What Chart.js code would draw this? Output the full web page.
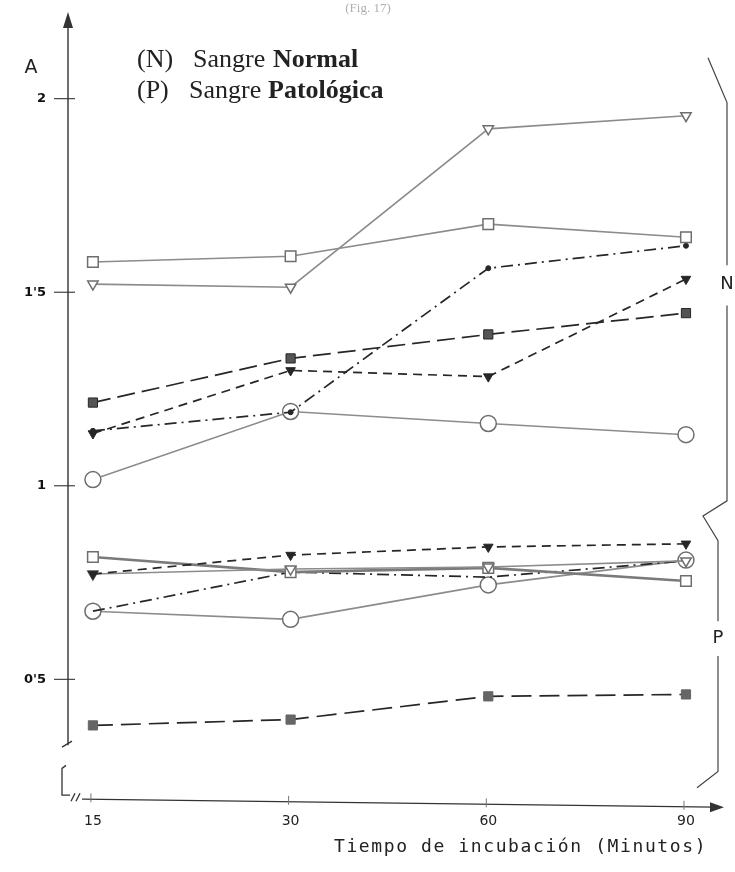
<!DOCTYPE html>
<html>
<head>
<meta charset="utf-8">
<script src="https://cdn.jsdelivr.net/npm/chart.js@4.4.1/dist/chart.umd.min.js"></script>
<style>
  html, body { margin: 0; padding: 0; background: #fff; }
  #wrap { width: 735px; height: 872px; position: relative; }
</style>
</head>
<body>
<div id="wrap"><canvas id="myChart"></canvas></div>
<script>
// incubation times (equally spaced on the drawing)
let times = ['15', '30', '60', '90'];
let yTicks = [0.5, 1, 1.5, 2];

// N = sangre normal
let nOpenSquare = [1.578, 1.593, 1.676, 1.642];
let nOpenTriangle = [1.521, 1.513, 1.922, 1.956];
let nDotDash = [1.142, 1.19, 1.562, 1.62];
let nCircle = [1.016, 1.192, 1.161, 1.132];
let nFilledSquare = [1.215, 1.329, 1.391, 1.446];
let nFilledTriangle = [1.135, 1.298, 1.282, 1.534];

// P = sangre patologica
let pFilledTriangle = [0.772, 0.821, 0.842, 0.85];
let pOpenTriangle = [0.772, 0.785, 0.79, 0.806];
let pOpenSquare = [0.816, 0.777, 0.788, 0.754];
let pDotDash = [0.676, 0.777, 0.764, 0.806];
let pCircle = [0.676, 0.655, 0.744, 0.808];
let pFilledSquare = [0.381, 0.396, 0.456, 0.461];

const GREY = '#8c8c8c';
const DARK = '#262626';

function pts(arr) {
  return arr.map((v, i) => ({ x: i, y: v }));
}

function openLine(data, style, extra) {
  return Object.assign({
    data: pts(data),
    borderColor: GREY,
    borderWidth: 1.6,
    pointStyle: style,
    pointRadius: 7.5,
    pointBorderColor: '#6e6e6e',
    pointBackgroundColor: '#fff',
    pointBorderWidth: 1.5
  }, extra || {});
}

function dashLine(data, style, dash, extra) {
  return Object.assign({
    data: pts(data),
    borderColor: DARK,
    borderWidth: 1.7,
    borderDash: dash,
    pointStyle: style,
    pointRadius: 6.5,
    pointBorderColor: DARK,
    pointBackgroundColor: '#555',
    pointBorderWidth: 1
  }, extra || {});
}

// axes, arrows, breaks, braces and the text drawn on top
const decorations = {
  id: 'decorations',
  afterDraw(chart) {
    const ctx = chart.ctx;
    const y = chart.scales.y;
    const x = chart.scales.x;
    const area = chart.chartArea;
    const ax = area.left;
    ctx.save();
    ctx.strokeStyle = '#333';
    ctx.fillStyle = '#333';
    ctx.lineWidth = 1.4;

    // y axis with arrow
    ctx.beginPath();
    ctx.moveTo(ax, y.getPixelForValue(0.33));
    ctx.lineTo(ax, 22);
    ctx.stroke();
    ctx.beginPath();
    ctx.moveTo(ax, 12);
    ctx.lineTo(ax - 5, 28);
    ctx.lineTo(ax + 5, 28);
    ctx.closePath();
    ctx.fill();
    // y tick crosses
    ctx.lineWidth = 1.1;
    yTicks.forEach(v => {
      let py = y.getPixelForValue(v);
      ctx.beginPath();
      ctx.moveTo(ax - 14, py);
      ctx.lineTo(ax + 7, py);
      ctx.stroke();
    });
    ctx.lineWidth = 1.3;
    // break on the y axis
    let yb = y.getPixelForValue(0.33);
    ctx.beginPath();
    ctx.moveTo(ax - 6, yb + 2);
    ctx.lineTo(ax + 4, yb - 4);
    ctx.stroke();
    let yb2 = y.getPixelForValue(0.27);
    ctx.beginPath();
    ctx.moveTo(ax - 2, yb2 - 3);
    ctx.lineTo(ax - 6, yb2);
    ctx.lineTo(ax - 6, area.bottom - 8);
    ctx.lineTo(ax + 2, area.bottom - 8);
    ctx.stroke();
    // x axis with break marks and arrow
    ctx.beginPath();
    ctx.moveTo(ax + 7, area.bottom - 10);
    ctx.lineTo(ax + 3, area.bottom - 2);
    ctx.moveTo(ax + 12, area.bottom - 10);
    ctx.lineTo(ax + 8, area.bottom - 2);
    ctx.stroke();
    ctx.beginPath();
    ctx.moveTo(ax + 14, area.bottom - 4);
    ctx.lineTo(area.right - 4, area.bottom + 4);
    ctx.stroke();
    ctx.beginPath();
    ctx.moveTo(area.right + 6, area.bottom + 4);
    ctx.lineTo(area.right - 8, area.bottom - 1);
    ctx.lineTo(area.right - 8, area.bottom + 9);
    ctx.closePath();
    ctx.fill();
    // small x ticks
    ctx.lineWidth = 1;
    ctx.strokeStyle = '#777';
    times.forEach((t, i) => {
      let pxx = x.getPixelForValue(i) - 2;
      let base = area.bottom - 4 + (pxx - ax - 14) * 8 / (area.right - ax - 18);
      ctx.beginPath();
      ctx.moveTo(pxx, base - 6);
      ctx.lineTo(pxx, base + 3);
      ctx.stroke();
    });

    // braces on the right
    const px = v => y.getPixelForValue(v);
    ctx.strokeStyle = '#444';
    ctx.lineWidth = 1.2;
    ctx.beginPath();
    ctx.moveTo(708, px(2.106));
    ctx.lineTo(727, px(1.99));
    ctx.lineTo(727, px(1.57));
    ctx.moveTo(727, px(1.466));
    ctx.lineTo(727, px(0.961));
    ctx.lineTo(703, px(0.922));
    ctx.lineTo(718, px(0.858));
    ctx.lineTo(718, px(0.65));
    ctx.moveTo(718, px(0.56));
    ctx.lineTo(718, px(0.262));
    ctx.lineTo(697, px(0.22));
    ctx.stroke();

    ctx.fillStyle = '#222';
    ctx.font = '18px "DejaVu Sans"';
    ctx.textAlign = 'center';
    ctx.textBaseline = 'middle';
    ctx.fillText('N', 727, px(1.52));
    ctx.fillText('P', 718, px(0.605));
    ctx.font = '19px "DejaVu Sans"';
    ctx.fillText('A', 31, 68);

    // faint figure caption, cut at the top
    ctx.fillStyle = '#b0b0b0';
    ctx.font = '13px "Liberation Serif"';
    ctx.fillText('(Fig. 17)', 368, 9);

    // axis title, typewriter style
    ctx.fillStyle = '#222';
    ctx.textAlign = 'left';
    ctx.textBaseline = 'alphabetic';
    ctx.font = '18px "DejaVu Sans Mono"';
    ctx.letterSpacing = '1.6px';
    ctx.fillText('Tiempo de incubación (Minutos)', 334, 852);
    ctx.letterSpacing = '0px';

    // legend lines
    ctx.font = '26px "Liberation Serif"';
    ctx.fillText('(N)', 137, 67);
    ctx.fillText('Sangre', 193, 67);
    ctx.fillText('(P)', 137, 98);
    ctx.fillText('Sangre', 189, 98);
    ctx.font = 'bold 26px "Liberation Serif"';
    ctx.fillText('Normal', 273, 67);
    ctx.fillText('Patológica', 268, 98);
    ctx.restore();
  }
};

function makeFigure() {
  let canvas = document.getElementById('myChart').getContext('2d');

  let figure = new Chart(canvas, {
    type: 'line',
    data: {
      datasets: [
        openLine(nOpenSquare, 'rect'),
        openLine(nOpenTriangle, 'triangle', { pointRotation: 180, pointRadius: 6 }),
        dashLine(nDotDash, 'circle', [12, 5, 2, 5], { pointRadius: 2.5, pointBackgroundColor: DARK }),
        openLine(nCircle, 'circle', { pointRadius: 8 }),
        dashLine(nFilledSquare, 'rect', [18, 7]),
        dashLine(nFilledTriangle, 'triangle', [9, 6], { pointRotation: 180, pointRadius: 5.5, pointBackgroundColor: DARK }),
        dashLine(pFilledTriangle, 'triangle', [9, 6], { pointRotation: 180, pointRadius: 5.5, pointBackgroundColor: DARK }),
        openLine(pOpenTriangle, 'triangle', { pointRotation: 180, pointRadius: 6 }),
        openLine(pOpenSquare, 'rect', { borderWidth: 2.6, borderColor: '#7a7a7a' }),
        dashLine(pDotDash, 'circle', [12, 5, 2, 5], { pointRadius: 0 }),
        openLine(pCircle, 'circle', { pointRadius: 8 }),
        dashLine(pFilledSquare, 'rect', [20, 8], { pointBackgroundColor: '#666', pointBorderColor: '#666' })
      ]
    },
    options: {
      responsive: true,
      maintainAspectRatio: false,
      animation: false,
      layout: { padding: { top: 29, right: 17, bottom: 40, left: 0 } },
      plugins: {
        legend: { display: false },
        tooltip: { enabled: false }
      },
      scales: {
        x: {
          type: 'linear',
          min: -0.126,
          max: 3.162,
          afterBuildTicks: s => { s.ticks = times.map((t, i) => ({ value: i })); },
          ticks: {
            callback: v => times[v],
            color: '#222',
            font: { family: 'DejaVu Sans', size: 14 },
            padding: 2,
            maxRotation: 0
          },
          grid: { display: false },
          border: { display: false }
        },
        y: {
          min: 0.18,
          max: 2.18,
          afterBuildTicks: s => { s.ticks = yTicks.map(v => ({ value: v })); },
          afterFit: s => { s.width = 68; },
          ticks: {
            callback: v => String(v).replace('.', "'"),
            color: '#111',
            font: { family: 'DejaVu Sans', size: 13, weight: 'bold' },
            padding: 14
          },
          grid: { display: false },
          border: { display: false }
        }
      }
    },
    plugins: [decorations]
  });
}

makeFigure();
</script>
</body>
</html>
